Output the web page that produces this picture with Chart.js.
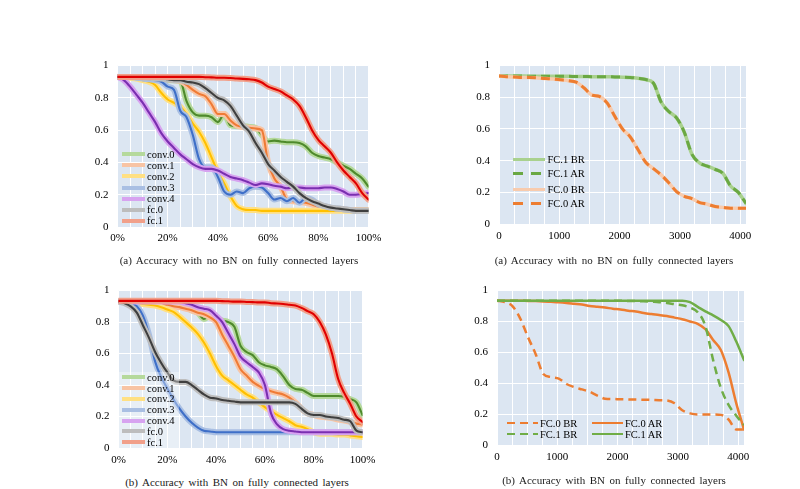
<!DOCTYPE html>
<html>
<head>
<meta charset="utf-8">
<script src="https://cdn.jsdelivr.net/npm/chart.js"></script>
<style>
  body { margin: 0; background: #fff; }
  #page { position: relative; width: 800px; height: 489px; overflow: hidden; font-family: "Liberation Serif", serif; color: #000; }
  canvas.plot { position: absolute; }
  .caption { position: absolute; font-size: 11px; line-height: 14px; white-space: nowrap; transform: translateX(-50%); word-spacing: 1.8px; color: #1a1a1a; }
  .row { position: absolute; display: flex; align-items: center; height: 14px; white-space: nowrap; }
  .sw { height: 4px; flex: none; }
  .legbox { position: absolute; background: rgba(255, 255, 255, 0.35); }
</style>
</head>
<body>
<div id="page"></div>
<script>
// x positions (% of layers / number of filters removed)
const pctX = [0, 2.5, 5, 7.5, 10, 12.5, 15, 17.5, 20, 22.5, 25, 27.5, 30, 32.5, 35, 37.5, 40, 42.5, 45, 47.5,
              50, 52.5, 55, 57.5, 60, 62.5, 65, 67.5, 70, 72.5, 75, 77.5, 80, 82.5, 85, 87.5, 90, 92.5, 95, 97.5, 100];
const binX = [0, 128, 256, 384, 512, 640, 768, 896, 1024, 1152, 1280, 1408, 1536, 1664, 1792, 1920, 2048,
              2176, 2304, 2432, 2560, 2688, 2816, 2944, 3072, 3200, 3328, 3456, 3584, 3712, 3840, 3968, 4096];

const pctLabels = ["0%", "20%", "40%", "60%", "80%", "100%"];
const binLabels = ["0", "1000", "2000", "3000", "4000"];
const yLabels = ["0", "0.2", "0.4", "0.6", "0.8", "1"];

const layerNames = ["conv.0", "conv.1", "conv.2", "conv.3", "conv.4", "fc.0", "fc.1"];
const lightCol = ["#b5d99c", "#f8c4a4", "#ffe083", "#a9bfe3", "#d7a3f0", "#bdbdbd", "#f1a08a"];
const darkCol = ["#4e8a2c", "#ef7b36", "#ffc000", "#3e6fc8", "#7a2fb0", "#3f3f3f", "#e00000"];

// (a) no BN, per layer
const conv0A = [.93, .93, .93, .925, .92, .92, .915, .915, .91, .91, .905, .78, .71, .69, .69, .68, .65, .70, .63, .625,
                .625, .62, .615, .57, .53, .535, .53, .525, .525, .52, .50, .46, .44, .43, .42, .40, .38, .36, .33, .30, .25];
const conv1A = [.93, .93, .93, .93, .925, .925, .92, .92, .915, .91, .905, .88, .85, .825, .81, .76, .70, .70, .66, .63,
                .62, .615, .61, .60, .40, .30, .25, .17, .16, .155, .15, .14, .125, .12, .115, .11, .11, .105, .105, .105, .105];
const conv2A = [.93, .93, .925, .92, .91, .90, .88, .83, .79, .77, .745, .70, .64, .59, .52, .43, .34, .27, .19, .13,
                .11, .105, .105, .10, .10, .10, .10, .10, .10, .10, .10, .10, .10, .10, .10, .10, .10, .10, .10, .10, .10];
const conv3A = [.93, .93, .93, .925, .92, .915, .91, .90, .87, .85, .72, .68, .57, .42, .37, .37, .31, .22, .20, .22,
                .21, .24, .25, .245, .21, .17, .18, .16, .18, .15, .18, .17, .14, .13, .12, .115, .11, .105, .10, .10, .10];
const conv4A = [.93, .91, .87, .82, .77, .71, .65, .58, .53, .49, .45, .42, .39, .37, .36, .36, .35, .33, .31, .30,
                .29, .275, .26, .27, .265, .255, .25, .24, .245, .245, .24, .24, .24, .245, .245, .235, .22, .20, .20, .205, .21];
const fc0A = [.93, .93, .93, .93, .925, .925, .92, .92, .915, .91, .91, .90, .895, .885, .86, .83, .80, .785, .75, .69,
              .63, .59, .52, .46, .39, .35, .31, .28, .25, .21, .18, .16, .145, .13, .12, .115, .11, .105, .10, .10, .10];
const fc1A = [.93, .93, .93, .93, .93, .93, .93, .93, .93, .93, .93, .93, .93, .93, .928, .927, .925, .925, .923, .92,
              .918, .915, .91, .895, .87, .855, .84, .815, .79, .75, .68, .60, .54, .50, .46, .40, .35, .31, .27, .21, .17];

// (b) with BN, per layer
const conv0B = [.93, .93, .925, .925, .92, .92, .915, .915, .91, .905, .90, .895, .875, .86, .82, .84, .825, .81, .80, .77,
                .65, .61, .59, .545, .525, .515, .50, .455, .40, .375, .37, .35, .33, .33, .33, .33, .33, .325, .31, .29, .21];
const conv1B = [.93, .93, .93, .925, .92, .92, .915, .91, .91, .90, .895, .885, .875, .86, .85, .83, .80, .72, .65, .58,
                .50, .46, .42, .395, .375, .36, .35, .34, .32, .29, .25, .22, .21, .20, .195, .19, .18, .175, .165, .155, .15];
const conv2B = [.93, .93, .925, .92, .915, .91, .905, .895, .88, .865, .835, .80, .765, .725, .67, .60, .52, .46, .43, .40,
                .37, .34, .32, .29, .26, .235, .21, .19, .17, .145, .135, .12, .10, .09, .09, .09, .085, .085, .08, .075, .07];
const conv3B = [.93, .93, .92, .90, .84, .72, .55, .45, .38, .31, .25, .20, .16, .13, .11, .105, .10, .10, .10, .10,
                .10, .10, .10, .10, .10, .10, .10, .10, .10, .10, .10, .10, .10, .10, .10, .10, .10, .10, .10, .10, .10];
const conv4B = [.93, .93, .93, .93, .93, .93, .93, .93, .93, .93, .93, .92, .91, .895, .885, .875, .84, .80, .73, .66,
                .58, .545, .515, .48, .40, .22, .15, .12, .11, .105, .10, .10, .10, .10, .10, .10, .10, .10, .10, .10, .10];
const fc0B = [.93, .92, .90, .86, .78, .70, .61, .54, .48, .43, .42, .42, .40, .37, .34, .32, .315, .305, .30, .295,
              .29, .29, .29, .29, .29, .29, .29, .29, .29, .28, .25, .22, .21, .21, .20, .195, .19, .18, .17, .11, .10];
const fc1B = [.935, .935, .935, .935, .935, .935, .935, .935, .935, .935, .935, .935, .935, .935, .935, .935, .935, .933, .932, .93,
              .93, .928, .927, .925, .925, .92, .918, .915, .91, .905, .89, .87, .85, .80, .72, .60, .44, .35, .28, .20, .165];

// fully connected layers, before / after retraining
const fc1BR_a = [.935, .935, .935, .934, .933, .933, .932, .932, .932, .932, .931, .931, .93, .93, .93, .928, .927,
                 .925, .92, .912, .89, .77, .71, .67, .58, .44, .385, .365, .345, .32, .24, .20, .13];
const fc1AR_a = [.935, .935, .935, .934, .933, .933, .932, .932, .932, .932, .931, .931, .93, .93, .93, .928, .927,
                 .925, .92, .912, .89, .77, .71, .67, .58, .44, .385, .365, .345, .32, .24, .20, .13];
const fc0BR_a = [.935, .93, .928, .925, .925, .922, .918, .915, .91, .905, .895, .86, .815, .805, .765, .68, .60,
                 .55, .47, .39, .35, .31, .26, .205, .175, .16, .135, .125, .11, .105, .10, .10, .10];
const fc0AR_a = [.935, .93, .928, .925, .925, .922, .918, .915, .91, .905, .895, .86, .815, .805, .765, .68, .60,
                 .55, .47, .39, .35, .31, .26, .205, .175, .16, .135, .125, .11, .105, .10, .10, .10];

const fc0BR_b = [.935, .925, .90, .82, .70, .59, .46, .44, .43, .395, .375, .36, .345, .32, .30, .298, .296,
                 .295, .294, .293, .292, .29, .288, .27, .225, .205, .198, .198, .198, .195, .165, .10, .10];
const fc0AR_b = [.935, .935, .935, .935, .933, .932, .93, .927, .924, .92, .915, .91, .90, .895, .89, .883, .878,
                 .87, .865, .855, .848, .842, .835, .825, .815, .80, .785, .75, .68, .615, .47, .27, .10];
const fc1BR_b = [.935, .935, .935, .935, .935, .935, .935, .935, .935, .935, .935, .935, .935, .935, .935, .935, .934,
                 .933, .932, .931, .928, .925, .92, .912, .905, .89, .86, .77, .55, .37, .26, .19, .13];
const fc1AR_b = [.935, .935, .935, .935, .935, .935, .935, .935, .935, .935, .935, .935, .935, .935, .935, .935, .935,
                 .935, .935, .935, .935, .935, .935, .935, .935, .925, .895, .865, .84, .81, .77, .67, .55];

Chart.defaults.font.family = "'Liberation Serif', serif";
Chart.defaults.font.size = 11;
Chart.defaults.color = "#000";

const page = document.getElementById("page");

const plotBg = {
    id: "plotBg",
    beforeDraw(chart) {
        const a = chart.chartArea;
        const ctx = chart.ctx;
        ctx.save();
        ctx.fillStyle = "#dce6f2";
        ctx.fillRect(a.left, a.top, a.right - a.left, a.bottom - a.top);
        ctx.restore();
    }
};

function points(xs, ys) {
    return xs.map((x, i) => ({ x, y: ys[i] }));
}

function range(step, max) {
    const out = [];
    for (let v = 0; v <= max + 1e-9; v += step) out.push(v);
    return out;
}

// box = canvas position on the page, area = wanted plot area on the page
function makeChart(box, area, xAxis, datasets) {
    const canvas = document.createElement("canvas");
    canvas.className = "plot";
    canvas.width = box.w;
    canvas.height = box.h;
    canvas.style.left = box.x + "px";
    canvas.style.top = box.y + "px";
    page.appendChild(canvas);

    new Chart(canvas.getContext("2d"), {
        type: "line",
        data: { datasets },
        plugins: [plotBg],
        options: {
            responsive: false,
            animation: false,
            layout: { padding: { top: area.top - box.y, right: box.x + box.w - area.right, left: 0, bottom: 0 } },
            plugins: { legend: { display: false }, tooltip: { enabled: false } },
            elements: {
                point: { radius: 0 },
                line: { cubicInterpolationMode: "monotone", borderCapStyle: "round", borderJoinStyle: "round" }
            },
            scales: {
                x: {
                    type: "linear",
                    min: 0,
                    max: xAxis.max,
                    border: { display: false },
                    grid: { color: "#ffffff", drawTicks: false },
                    ticks: {
                        autoSkip: false,
                        maxRotation: 0,
                        padding: xAxis.pad,
                        callback: v => {
                            const k = Math.round(v / xAxis.labelStep);
                            return Math.abs(v - k * xAxis.labelStep) < 1e-6 ? xAxis.labels[k] : "";
                        }
                    },
                    afterBuildTicks: s => { s.ticks = range(xAxis.gridStep, xAxis.gridMax).map(v => ({ value: v })); },
                    afterFit: s => { s.height = box.y + box.h - area.bottom; }
                },
                y: {
                    min: 0,
                    max: 1,
                    border: { display: false },
                    grid: { color: "#ffffff", drawTicks: false },
                    ticks: { padding: 9, callback: v => yLabels[Math.round(v * 5)] },
                    afterBuildTicks: s => { s.ticks = yLabels.map((t, i) => ({ value: i / 5 })); },
                    afterFit: s => { s.width = area.left - box.x; }
                }
            }
        }
    });
}

function layerSets(series) {
    const sets = [];
    series.forEach((ys, i) => {
        const data = points(pctX, ys);
        sets.push({ label: layerNames[i], data, borderColor: lightCol[i], borderWidth: 6, order: 2 * (10 - i) + 1 });
        sets.push({ label: layerNames[i], data, borderColor: darkCol[i], borderWidth: 2.1, order: 2 * (10 - i) });
    });
    return sets;
}

function addRow(x, y, w, gap, swatch, text, size) {
    const row = document.createElement("div");
    row.className = "row";
    row.style.left = x + "px";
    row.style.top = (y - 7) + "px";
    row.style.fontSize = size + "px";
    const sw = document.createElement("div");
    sw.className = "sw";
    sw.style.width = w + "px";
    sw.style.background = swatch.bg;
    sw.style.height = swatch.h + "px";
    sw.style.marginRight = gap + "px";
    row.appendChild(sw);
    row.appendChild(document.createTextNode(text));
    page.appendChild(row);
}

function solid(c, h) { return { bg: c, h }; }
function dashed(c, h, d, g) {
    return { bg: `repeating-linear-gradient(to right, ${c} 0 ${d}px, transparent ${d}px ${d + g}px)`, h };
}

function addCaption(cx, cy, text) {
    const el = document.createElement("div");
    el.className = "caption";
    el.style.left = cx + "px";
    el.style.top = (cy - 7) + "px";
    el.textContent = text;
    page.appendChild(el);
}

const pctAxis = { max: 100, gridStep: 5, gridMax: 100, labelStep: 20, labels: pctLabels };
const binAxis = { max: 4096, gridStep: 250, gridMax: 4000, labelStep: 1000, labels: binLabels };

// top left
makeChart({ x: 75, y: 50, w: 320, h: 200 }, { left: 117.5, top: 65, right: 368.5, bottom: 227 },
    Object.assign({ pad: 5 }, pctAxis),
    layerSets([conv0A, conv1A, conv2A, conv3A, conv4A, fc0A, fc1A]));

// bottom left
makeChart({ x: 75, y: 275, w: 320, h: 200 }, { left: 118.5, top: 290, right: 362.5, bottom: 448 },
    Object.assign({ pad: 6 }, pctAxis),
    layerSets([conv0B, conv1B, conv2B, conv3B, conv4B, fc0B, fc1B]));

// top right
makeChart({ x: 455, y: 50, w: 315, h: 200 }, { left: 499, top: 65, right: 746, bottom: 224 },
    Object.assign({ pad: 6 }, binAxis),
    [
        { label: "FC.1 BR", data: points(binX, fc1BR_a), borderColor: "#a9d18e", borderWidth: 3.5, order: 4 },
        { label: "FC.1 AR", data: points(binX, fc1AR_a), borderColor: "#6aa843", borderWidth: 3, borderDash: [9, 5], borderCapStyle: "butt", order: 3 },
        { label: "FC.0 BR", data: points(binX, fc0BR_a), borderColor: "#f8cbad", borderWidth: 3.5, order: 2 },
        { label: "FC.0 AR", data: points(binX, fc0AR_a), borderColor: "#ed7d31", borderWidth: 3, borderDash: [9, 5], borderCapStyle: "butt", order: 1 }
    ]);

// bottom right
makeChart({ x: 455, y: 275, w: 315, h: 195 }, { left: 497, top: 287.5, right: 744, bottom: 445 },
    Object.assign({ pad: 6 }, binAxis),
    [
        { label: "FC.0 BR", data: points(binX, fc0BR_b), borderColor: "#ed7d31", borderWidth: 2.5, borderDash: [8, 5], borderCapStyle: "butt", order: 4 },
        { label: "FC.0 AR", data: points(binX, fc0AR_b), borderColor: "#ed7d31", borderWidth: 2.5, order: 3 },
        { label: "FC.1 BR", data: points(binX, fc1BR_b), borderColor: "#70ad47", borderWidth: 2.5, borderDash: [8, 5], borderCapStyle: "butt", order: 2 },
        { label: "FC.1 AR", data: points(binX, fc1AR_b), borderColor: "#70ad47", borderWidth: 2.5, order: 1 }
    ]);

// legends
layerNames.forEach((name, i) => {
    addRow(122, 154.3 + i * 11.07, 23, 2, solid(lightCol[i], 4), name, 10.5);
});

const box = document.createElement("div");
box.className = "legbox";
Object.assign(box.style, { left: "118.5px", top: "372px", width: "60px", height: "76px" });
page.appendChild(box);
layerNames.forEach((name, i) => {
    addRow(122, 377.3 + i * 10.8, 23, 2, solid(lightCol[i], 4), name, 10.5);
});

addRow(513, 159, 32, 2.5, solid("#a9d18e", 3), "FC.1 BR", 10.5);
addRow(513, 173.5, 32, 2.5, dashed("#6aa843", 3, 10, 8), "FC.1 AR", 10.5);
addRow(513, 189, 32, 2.5, solid("#f8cbad", 3), "FC.0 BR", 10.5);
addRow(513, 203.5, 32, 2.5, dashed("#ed7d31", 3, 10, 8), "FC.0 AR", 10.5);

addRow(507, 423, 31, 2, dashed("#ed7d31", 2.5, 8, 5), "FC.0 BR", 10.5);
addRow(592, 423, 31, 2, solid("#ed7d31", 2.5), "FC.0 AR", 10.5);
addRow(507, 434, 31, 2, dashed("#70ad47", 2.5, 8, 5), "FC.1 BR", 10.5);
addRow(592, 434, 31, 2, solid("#70ad47", 2.5), "FC.1 AR", 10.5);

addCaption(239, 260, "(a) Accuracy with no BN on fully connected layers");
addCaption(614, 260, "(a) Accuracy with no BN on fully connected layers");
addCaption(237, 482, "(b) Accuracy with BN on fully connected layers");
addCaption(614, 480, "(b) Accuracy with BN on fully connected layers");
</script>
</body>
</html>
